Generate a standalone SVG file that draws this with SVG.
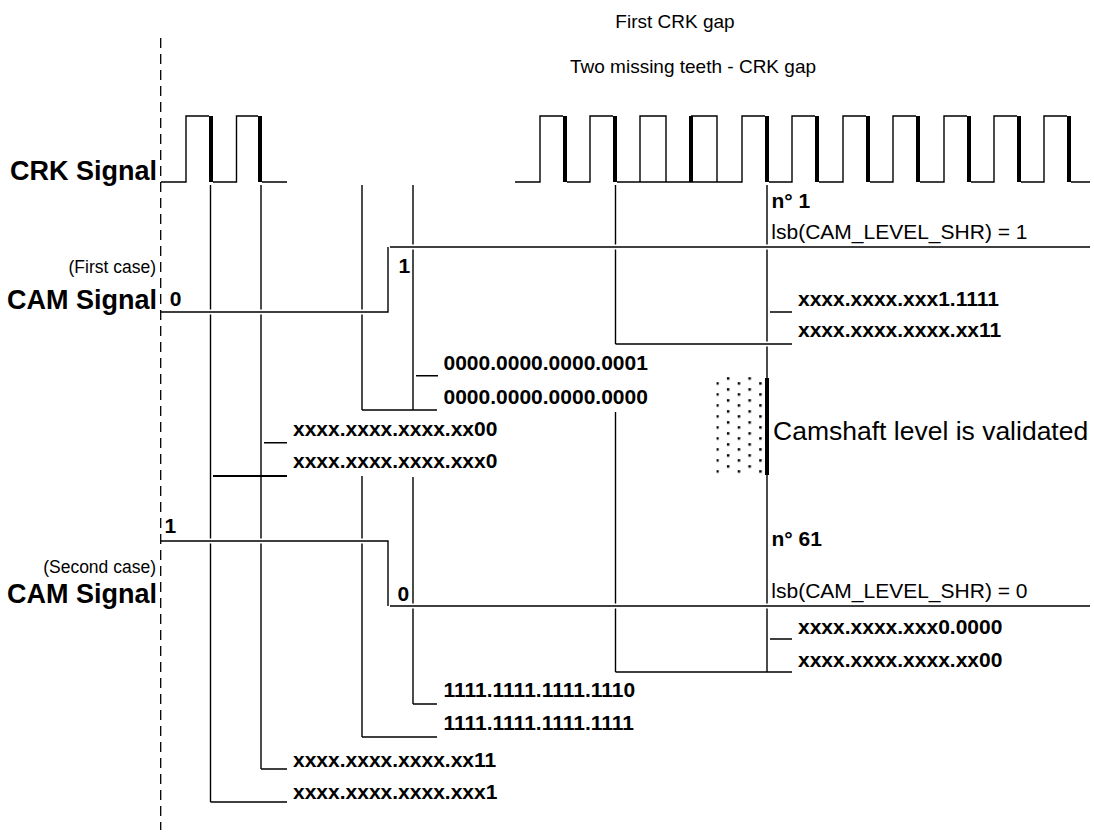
<svg xmlns="http://www.w3.org/2000/svg" width="1094" height="833" viewBox="0 0 1094 833">
<style>
text{font-family:"Liberation Sans",Arial,sans-serif;fill:#000}
.b{font-weight:bold;font-size:21px}
.r{font-size:21px}
.hdr{font-size:19px}
.big{font-weight:bold;font-size:27px}
.case{font-size:17.5px}
.ln{stroke:#000;stroke-width:1.4;fill:none}
.thk{stroke:#000;stroke-width:4;fill:none}
.halo{stroke:#fff;stroke-width:5;fill:none}
.dash{stroke:#000;stroke-width:1.3;stroke-dasharray:10 6;fill:none}
</style>
<defs>
<pattern id="dots" patternUnits="userSpaceOnUse" x="716.2" y="377.2" width="21.5" height="11">
<rect x="0" y="5" width="2.5" height="2.5" fill="#000"/>
<rect x="10.7" y="0" width="2.5" height="2.5" fill="#000"/>
</pattern>
</defs>
<rect width="1094" height="833" fill="#fff"/>

<g id="reference-line">
<line class="dash" x1="160.7" y1="38" x2="160.7" y2="830"/>
</g>

<g id="titles">
<text class="hdr" x="675" y="28" text-anchor="middle">First CRK gap</text>
<text class="hdr" x="693" y="73" text-anchor="middle">Two missing teeth - CRK gap</text>
<text class="big" x="157" y="180" text-anchor="end">CRK Signal</text>
<text class="case" x="156" y="273" text-anchor="end">(First case)</text>
<text class="big" x="157" y="309" text-anchor="end">CAM Signal</text>
<text class="case" x="156" y="573" text-anchor="end">(Second case)</text>
<text class="big" x="157" y="603" text-anchor="end">CAM Signal</text>
</g>

<g id="crk-signal">
<path class="ln" d="M161,182 H186 V116 H209 M213,182 H236.5 V116 H258 M262,182 H287"/>
<path class="thk" d="M211,116 V182 M260,116 V182"/>
<path class="ln" d="M515,182 H540 V116 H563 M567,182 H590 V116 H613 M617,182 H742 V116 H765 M769,182 H792 V116 H815 M819,182 H843 V116 H866 M870,182 H893 V116 H916 M920,182 H944 V116 H967 M971,182 H994 V116 H1017 M1021,182 H1044 V116 H1067 M1071,182 H1090"/>
<path class="ln" d="M640,182 V116 H666 V182 M691,116 H717 V182"/>
<path class="thk" d="M565,116 V182 M615,116 V182 M691,116 V182 M767,116 V182 M817,116 V182 M868,116 V182 M918,116 V182 M969,116 V182 M1019,116 V182 M1069,116 V182"/>
</g>

<g id="validated-box">
<rect x="716.5" y="377" width="46.5" height="97" fill="url(#dots)"/>
<line class="thk" x1="767" y1="378" x2="767" y2="475"/>
<text x="773" y="440" style="font-size:26.5px">Camshaft level is validated</text>
</g>

<g id="connectors">
<path class="ln" d="M210.5,185 V802 M261,185 V769 M362,185 V410 M362,476 V737 M413,185 V410 M413,477 V704 M615.5,185 V344 M615.5,412 V672 M767,185 V378 M767,475 V672"/>
<line class="halo" x1="165" y1="312" x2="383" y2="312"/>
<line class="halo" x1="395" y1="247" x2="1090" y2="247"/>
<line class="halo" x1="165" y1="541" x2="383" y2="541"/>
<line class="halo" x1="395" y1="606" x2="1090" y2="606"/>
<line class="halo" x1="620" y1="344" x2="787" y2="344"/>
<path class="ln" d="M362,410 H437 M416,375.7 H438 M264,442.7 H287 M413,704 H437 M362,737 H437 M261,769 H287 M210.5,802 H287 M770,312 H792 M615.5,344 H792 M770,639 H792 M615.5,672 H792"/>
<line x1="213" y1="476" x2="287" y2="476" stroke="#000" stroke-width="2"/>
</g>

<g id="cam-first">
<path class="ln" d="M161,312 H388 V247 M390,247 H1090"/>
<text class="b" x="169.8" y="306">0</text>
<text class="b" x="398.4" y="273">1</text>
</g>

<g id="cam-second">
<path class="ln" d="M161,541 H388 V606 M390,606 H1090"/>
<text class="b" x="164.5" y="533">1</text>
<text class="b" x="397.4" y="601">0</text>
</g>

<g id="labels-first">
<text class="b" x="771.5" y="208">n° 1</text>
<text class="r" x="771.3" y="239">lsb(CAM_LEVEL_SHR) = 1</text>
<text class="b" x="798" y="306">xxxx.xxxx.xxx1.1111</text>
<text class="b" x="798" y="337">xxxx.xxxx.xxxx.xx11</text>
<text class="b" x="443.5" y="370">0000.0000.0000.0001</text>
<text class="b" x="443.5" y="404">0000.0000.0000.0000</text>
<text class="b" x="293" y="436">xxxx.xxxx.xxxx.xx00</text>
<text class="b" x="293" y="468">xxxx.xxxx.xxxx.xxx0</text>
</g>

<g id="labels-second">
<text class="b" x="771.5" y="545.5">n° 61</text>
<text class="r" x="771.3" y="597.5">lsb(CAM_LEVEL_SHR) = 0</text>
<text class="b" x="798" y="633.5">xxxx.xxxx.xxx0.0000</text>
<text class="b" x="798" y="666.5">xxxx.xxxx.xxxx.xx00</text>
<text class="b" x="443.5" y="697">1111.1111.1111.1110</text>
<text class="b" x="443.5" y="730">1111.1111.1111.1111</text>
<text class="b" x="293" y="767">xxxx.xxxx.xxxx.xx11</text>
<text class="b" x="293" y="799">xxxx.xxxx.xxxx.xxx1</text>
</g>
</svg>
